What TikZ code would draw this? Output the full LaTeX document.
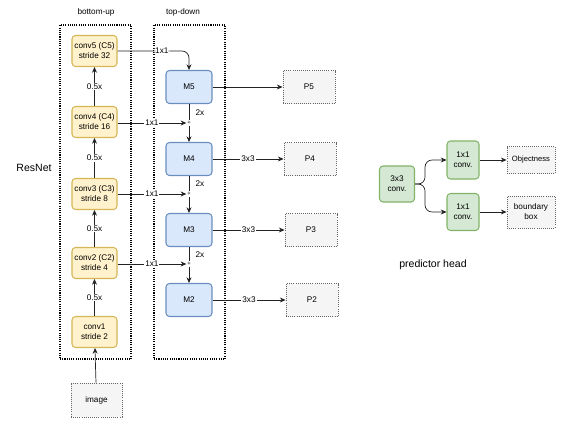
\documentclass[tikz,border=0pt]{standalone}
\usepackage{fontspec}
\setmainfont{Liberation Sans}
\usetikzlibrary{arrows.meta}

\definecolor{yfill}{HTML}{FFF2CC}
\definecolor{ydraw}{HTML}{D6B656}
\definecolor{bfill}{HTML}{DAE8FC}
\definecolor{bdraw}{HTML}{6C8EBF}
\definecolor{gfill}{HTML}{D5E8D4}
\definecolor{gdraw}{HTML}{82B366}
\definecolor{pfill}{HTML}{F5F5F5}
\definecolor{pdraw}{HTML}{666666}
\definecolor{lnc}{HTML}{222222}

\begin{document}
\begin{tikzpicture}[
  x=0.03cm, y=-0.03cm,
  font=\fontsize{7}{8.5}\selectfont,
  box/.style={rectangle, rounded corners=3pt, draw, line width=0.9pt, align=center, inner sep=1pt},
  cstage/.style={box, fill=yfill, draw=ydraw, minimum width=1.35cm, minimum height=0.93cm},
  mstage/.style={box, fill=bfill, draw=bdraw, minimum width=1.38cm, minimum height=0.99cm},
  hstage/.style={box, fill=gfill, draw=gdraw},
  pbox/.style={rectangle, draw=pdraw, densely dotted, thick, fill=pfill, align=center,
               minimum width=1.56cm, minimum height=0.99cm, inner sep=1pt},
  frame/.style={rectangle, draw, densely dotted, line width=0.9pt, minimum width=2.13cm, minimum height=10.02cm},
  plus/.style={inner sep=0.6pt, font=\fontsize{5}{5}\selectfont},
  tag/.style={fill=white, inner sep=0.8pt},
  arr/.style={-{Stealth[length=1.7mm, width=1.5mm]}, draw=lnc, line width=0.6pt},
  ln/.style={draw=lnc, line width=0.6pt},
  ]
  \useasboundingbox (0,0) rectangle (562,421);

  %% Dotted containers and titles
  \node[frame] (bu) at (95.5,192) {};
  \node[frame] (td) at (189.5,192) {};
  \node (butitle) at (96,12) {bottom-up};
  \node (tdtitle) at (183,12) {top-down};
  \node[font=\fontsize{9}{10}\selectfont] (resnet) at (34,168) {ResNet};

  %% Bottom-up stages
  \node[cstage] (conv5) at (94.5,51)  {conv5 (C5)\\stride 32};
  \node[cstage] (conv4) at (94.5,122) {conv4 (C4)\\stride 16};
  \node[cstage] (conv3) at (94.5,194) {conv3 (C3)\\stride 8};
  \node[cstage] (conv2) at (94.5,263) {conv2 (C2)\\stride 4};
  \node[cstage] (conv1) at (94.5,332) {conv1\\stride 2};
  \node[pbox, minimum width=1.53cm, minimum height=1.02cm] (img) at (96.5,400) {image};

  %% Top-down stages and merge points
  \node[mstage] (m5) at (189,87)  {M5};
  \node[mstage] (m4) at (189,159) {M4};
  \node[mstage] (m3) at (189,230) {M3};
  \node[mstage] (m2) at (189,300) {M2};
  \node[plus] (s4) at (189,123) {+};
  \node[plus] (s3) at (189,194) {+};
  \node[plus] (s2) at (189,264) {+};

  %% Outputs
  \node[pbox] (p5) at (309,87)  {P5};
  \node[pbox] (p4) at (310,159) {P4};
  \node[pbox] (p3) at (311,230) {P3};
  \node[pbox] (p2) at (312,300) {P2};

  %% Bottom-up arrows
  \draw[arr] (img)   -- (conv1);
  \draw[arr] (conv1) -- node[tag] {0.5x} (conv2);
  \draw[arr] (conv2) -- node[tag] {0.5x} (conv3);
  \draw[arr] (conv3) -- node[tag] {0.5x} (conv4);
  \draw[arr] (conv4) -- node[tag] {0.5x} (conv5);

  %% Lateral 1x1 connections
  \draw[arr, rounded corners=6pt] (conv5.east) -- node[tag, pos=0.62] {1x1} (conv5.east -| m5) -- (m5.north);
  \draw[arr] (conv4.east |- s4) -- node[tag] {1x1} (s4.west);
  \draw[arr] (conv3.east |- s3) -- node[tag] {1x1} (s3.west);
  \draw[arr] (conv2.east |- s2) -- node[tag] {1x1} (s2.west);

  %% Top-down 2x upsampling
  \draw[ln]  (m5.south) -- node[right=2pt] {2x} (s4.north);
  \draw[arr] (s4.south) -- (m4.north);
  \draw[ln]  (m4.south) -- node[right=2pt] {2x} (s3.north);
  \draw[arr] (s3.south) -- (m3.north);
  \draw[ln]  (m3.south) -- node[right=2pt] {2x} (s2.north);
  \draw[arr] (s2.south) -- (m2.north);

  %% Output convolutions
  \draw[arr] (m5.east) -- (p5.west);
  \draw[arr] (m4.east) -- node[tag] {3x3} (m4.east -| p4.west);
  \draw[arr] (m3.east) -- node[tag] {3x3} (m3.east -| p3.west);
  \draw[arr] (m2.east) -- node[tag] {3x3} (m2.east -| p2.west);

  %% Predictor head
  \node[hstage, minimum width=1.05cm, minimum height=1.08cm] (head) at (397,184) {3x3\\conv.};
  \node[hstage, minimum width=0.96cm, minimum height=1.14cm] (cobj) at (463,160) {1x1\\conv.};
  \node[hstage, minimum width=0.96cm, minimum height=1.11cm] (cbox) at (463,212) {1x1\\conv.};
  \node[pbox, minimum width=1.44cm, minimum height=0.81cm, font=\fontsize{6.5}{7.5}\selectfont] (obj) at (531,160) {Objectness};
  \node[pbox, minimum width=1.44cm, minimum height=0.96cm] (bbox) at (531,212) {boundary\\box};
  \node[font=\fontsize{9}{10}\selectfont] (phead) at (433,265) {predictor head};

  \draw[arr, rounded corners=6pt] (head.east) -- ++(10,0) |- (cobj.west);
  \draw[arr, rounded corners=6pt] (head.east) -- ++(10,0) |- (cbox.west);
  \draw[arr] (cobj.east) -- (obj.west);
  \draw[arr] (cbox.east) -- (bbox.west);
\end{tikzpicture}
\end{document}
